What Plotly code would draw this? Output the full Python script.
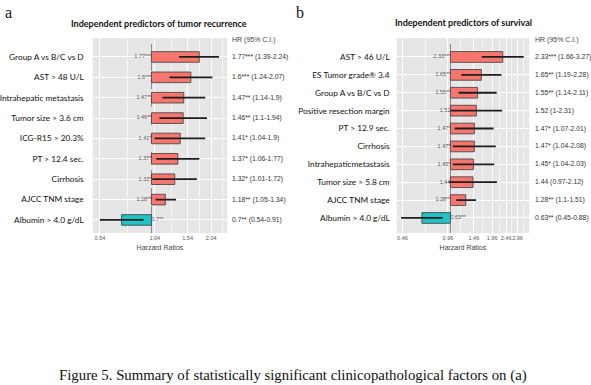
import plotly.graph_objects as go

# ---------------- data ----------------
a_labels = ["Group A vs B/C vs D", "AST > 48 U/L", "Intrahepatic metastasis",
            "Tumor size > 3.6 cm", "ICG-R15 > 20.3%", "PT > 12.4 sec.",
            "Cirrhosis", "AJCC TNM stage", "Albumin > 4.0 g/dL"]
a_hr = [1.77, 1.6, 1.47, 1.46, 1.41, 1.37, 1.32, 1.18, 0.7]
a_lo = [1.39, 1.24, 1.14, 1.1, 1.04, 1.06, 1.01, 1.05, 0.54]
a_hi = [2.24, 2.07, 1.9, 1.94, 1.9, 1.77, 1.72, 1.34, 0.91]
a_sig = ["***", "***", "**", "**", "*", "*", "*", "**", "**"]
a_ticks = [0.54, 1.04, 1.54, 2.04]

b_labels = ["AST > 46 U/L", "ES Tumor grade\u00ae 3.4", "Group A vs B/C vs D",
            "Positive resection margin", "PT > 12.9 sec.", "Cirrhosis",
            "Intrahepaticmetastasis", "Tumor size > 5.8 cm", "AJCC TNM stage",
            "Albumin > 4.0 g/dL"]
b_hr = [2.33, 1.65, 1.55, 1.52, 1.47, 1.47, 1.45, 1.44, 1.28, 0.63]
b_lo = [1.66, 1.19, 1.14, 1.0, 1.07, 1.04, 1.04, 0.97, 1.1, 0.45]
b_hi = [3.27, 2.28, 2.11, 2.31, 2.01, 2.08, 2.03, 2.12, 1.51, 0.88]
b_sig = ["***", "**", "**", "", "*", "*", "*", "", "**", "**"]
b_ticks = [0.46, 0.96, 1.46, 1.96, 2.46, 2.96]

title_a = "Independent predictors of tumor recurrence"
title_b = "Independent predictors of survival"
caption = "Figure 5. Summary of statistically significant clinicopathological factors on (a)"

# ---------------- styling ----------------
W, H = 591, 385
POS, NEG = "#F8766D", "#1FC3C6"
PANEL = "#E6E6E6"
LABEL_FONT = "Lato"
SMALL_FONT = "Liberation Sans"

fig = go.Figure()


def minor_vals(ticks):
    vals = []
    for i in range(len(ticks) - 1):
        vals.append((ticks[i] * ticks[i + 1]) ** 0.5)
    vals.append(ticks[-1] * (ticks[-1] / ticks[-2]) ** 0.5)
    vals.insert(0, ticks[0] / (ticks[1] / ticks[0]) ** 0.5)
    return vals


def add_panel(labels, hr, lo, hi, sig, xa, ya, text_x, bar_w):
    n = len(labels)
    ys = list(range(n))
    colors = [POS if v >= 1 else NEG for v in hr]
    fig.add_trace(go.Bar(
        x=[v - 1 for v in hr], y=ys, base=[1] * n, orientation="h",
        marker=dict(color=colors, line=dict(color="#3a3a3a", width=0.8)),
        width=bar_w, xaxis=xa, yaxis=ya, showlegend=False, hoverinfo="skip"))
    fig.add_trace(go.Scatter(
        x=hr, y=ys, mode="markers", marker=dict(size=0.1, color="rgba(0,0,0,0)"),
        error_x=dict(type="data", symmetric=False,
                     array=[h - m for h, m in zip(hi, hr)],
                     arrayminus=[m - l for m, l in zip(hr, lo)],
                     color="#1e1e1e", thickness=1.8, width=0),
        xaxis=xa, yaxis=ya, showlegend=False, hoverinfo="skip"))
    fig.add_trace(go.Scatter(
        x=[1] * n, y=ys, mode="text",
        text=[f"{v:g}{s}" for v, s in zip(hr, sig)],
        textposition=["middle left" if v >= 1 else "middle right" for v in hr],
        textfont=dict(size=5.5, color="#555555", family=SMALL_FONT),
        xaxis=xa, yaxis=ya, showlegend=False, hoverinfo="skip"))
    for i in range(n):
        fig.add_annotation(
            x=text_x, xref="paper", xanchor="left", y=i, yref=ya,
            text=f"{hr[i]:g}{sig[i]} ({lo[i]:g}-{hi[i]:g})", showarrow=False,
            font=dict(size=6.8, color="#333333", family=SMALL_FONT))


add_panel(a_labels, a_hr, a_lo, a_hi, a_sig, "x", "y", 229 / W, 0.52)
add_panel(b_labels, b_hr, b_lo, b_hi, b_sig, "x2", "y2", 533 / W, 0.6)

axis_common = dict(
    type="log", showline=False, zeroline=False, ticks="", tickangle=0,
    gridcolor="white", gridwidth=1,
    tickfont=dict(size=5.5, color="#555555", family=SMALL_FONT),
    title=dict(text="Harzard Ratios", standoff=5,
               font=dict(size=7, color="#444444", family=SMALL_FONT)),
    fixedrange=True,
)
yaxis_common = dict(
    tickfont=dict(size=8.3, color="#111111", family=LABEL_FONT),
    ticks="", showgrid=True, gridcolor="white", zeroline=False, fixedrange=True,
)
fig.update_layout(
    width=W, height=H, margin=dict(l=0, r=0, t=0, b=0),
    paper_bgcolor="white", plot_bgcolor=PANEL,
    xaxis=dict(domain=[91 / W, 226 / W], range=[-0.305, 0.393],
               tickmode="array", tickvals=a_ticks, ticktext=[f"{t:g}" for t in a_ticks],
               minor=dict(tickmode="array", tickvals=minor_vals(a_ticks),
                          showgrid=True, gridcolor="#F5F5F5", gridwidth=0.6),
               anchor="y", **axis_common),
    xaxis2=dict(domain=[396 / W, 529 / W], range=[-0.378, 0.553],
                tickmode="array", tickvals=b_ticks, ticktext=[f"{t:g}" for t in b_ticks],
                minor=dict(tickmode="array", tickvals=minor_vals(b_ticks),
                           showgrid=True, gridcolor="#F5F5F5", gridwidth=0.6),
                anchor="y2", **axis_common),
    yaxis=dict(domain=[1 - 233 / H, 1 - 38 / H], range=[8.64, -0.93],
               tickmode="array", tickvals=list(range(len(a_labels))), ticktext=a_labels,
               ticklabelstandoff=8, anchor="x", **yaxis_common),
    yaxis2=dict(domain=[1 - 233 / H, 1 - 38 / H], range=[9.84, -1.06],
                tickmode="array", tickvals=list(range(len(b_labels))), ticktext=b_labels,
                ticklabelstandoff=6, anchor="x2", **yaxis_common),
)

# reference lines at HR = 1
for xr, yr in (("x", "y domain"), ("x2", "y2 domain")):
    fig.add_shape(type="line", xref=xr, yref=yr, x0=1, x1=1, y0=0, y1=1,
                  line=dict(color="#8a8a8a", width=1, dash="dash"), layer="below")

# titles, headers, panel letters, caption
fig.add_annotation(x=158 / W, y=1 - 23 / H, xref="paper", yref="paper",
                   text="<b>" + title_a + "</b>", showarrow=False,
                   font=dict(size=9, color="#111111", family="Lato"),
                   xanchor="center", yanchor="middle")
fig.add_annotation(x=463 / W, y=1 - 22 / H, xref="paper", yref="paper",
                   text="<b>" + title_b + "</b>", showarrow=False,
                   font=dict(size=9, color="#111111", family="Lato"),
                   xanchor="center", yanchor="middle")
for xp in (229 / W, 533 / W):
    fig.add_annotation(x=xp, y=1 - 40 / H, xref="paper", yref="paper", text="HR (95% C.I.)",
                       showarrow=False, xanchor="left", yanchor="middle",
                       font=dict(size=7, color="#444444", family=SMALL_FONT))
fig.add_annotation(x=1 / W, y=1 - 12 / H, xref="paper", yref="paper", text="a",
                   showarrow=False, xanchor="left", yanchor="middle",
                   font=dict(size=16, color="#111111", family="Liberation Serif"))
fig.add_annotation(x=293 / W, y=1 - 12 / H, xref="paper", yref="paper", text="b",
                   showarrow=False, xanchor="left", yanchor="middle",
                   font=dict(size=16, color="#111111", family="Liberation Serif"))
fig.add_annotation(x=529 / W, y=1 - 375 / H, xref="paper", yref="paper", text=caption,
                   showarrow=False, xanchor="right", yanchor="middle",
                   font=dict(size=14.8, color="#111111", family="Liberation Serif"))

fig.write_html("out.html")
